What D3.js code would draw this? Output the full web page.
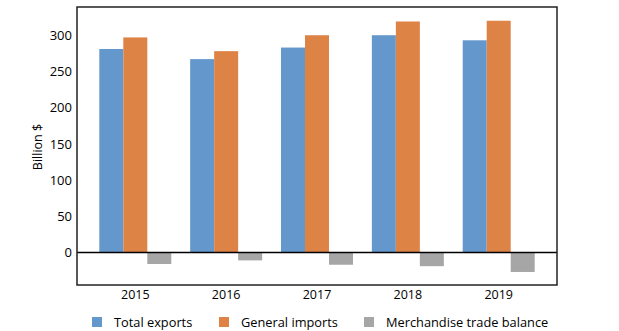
<!DOCTYPE html>
<html><head><meta charset="utf-8">
<script src="https://cdn.jsdelivr.net/npm/d3@7"></script>
<style>body{margin:0;background:#fff}svg{display:block;font-family:"Open Sans",sans-serif}</style>
</head><body><svg id="c" width="619" height="331"></svg>
<script>
const years = ["2015","2016","2017","2018","2019"];
const totalExports = [281, 267, 283, 300, 293];
const generalImports = [297, 278, 300, 319, 320];
const tradeBalance = [-16, -11, -17, -19, -27];
const seriesNames = ["Total exports","General imports","Merchandise trade balance"];
const seriesColors = ["#6498cc","#de8346","#a6a6a6"];
const yTicks = [0,50,100,150,200,250,300];

const svg = d3.select("#c");
const L=77, R=557, T=7, B=285;
const y = d3.scaleLinear().domain([-45, 339]).range([B, T]);
const x = d3.scaleBand().domain(years).range([L, R]).paddingInner(0.2075).paddingOuter(0.2455);
const xs = d3.scaleBand().domain([0,1,2]).range([0, x.bandwidth()]);
const series = [totalExports, generalImports, tradeBalance];

series.forEach((vals, si) => {
  svg.append("g").selectAll("rect").data(vals).join("rect")
    .attr("x", (d,i) => x(years[i]) + xs(si))
    .attr("width", xs.bandwidth())
    .attr("y", d => y(Math.max(0,d)))
    .attr("height", d => Math.abs(y(d) - y(0)))
    .attr("fill", seriesColors[si]);
});

// zero line
svg.append("line").attr("x1", L).attr("x2", R).attr("y1", y(0)).attr("y2", y(0))
  .attr("stroke", "#000").attr("stroke-width", 1.5);
// frame
svg.append("rect").attr("x", L).attr("y", T).attr("width", R-L).attr("height", B-T)
  .attr("fill", "none").attr("stroke", "#222").attr("stroke-width", 1.5);

// y axis
const ya = svg.append("g").attr("transform", `translate(${L},0)`)
  .call(d3.axisLeft(y).tickValues(yTicks).tickSize(0).tickPadding(5));
ya.select(".domain").remove();
ya.selectAll("text").attr("font-size", 13).attr("fill", "#000").attr("font-family", "Open Sans");

// x axis labels
const xa = svg.append("g").attr("transform", `translate(0,${B})`)
  .call(d3.axisBottom(x).tickSize(0).tickPadding(5));
xa.select(".domain").remove();
xa.selectAll("text").attr("font-size", 12.5).attr("fill", "#000").attr("font-family", "Open Sans");

// y title
svg.append("text").attr("transform", "translate(42,147) rotate(-90)")
  .attr("text-anchor", "middle").attr("font-size", 12.5).text("Billion $");

// legend
const legX = [92, 219, 364];
const lg = svg.append("g").selectAll("g").data(seriesNames).join("g")
  .attr("transform", (d,i) => `translate(${legX[i]},317)`);
lg.append("rect").attr("width", 10).attr("height", 10).attr("fill", (d,i) => seriesColors[i]);
lg.append("text").attr("x", 22).attr("y", 9.5).attr("font-size", 12.8).text(d => d);
</script></body></html>
